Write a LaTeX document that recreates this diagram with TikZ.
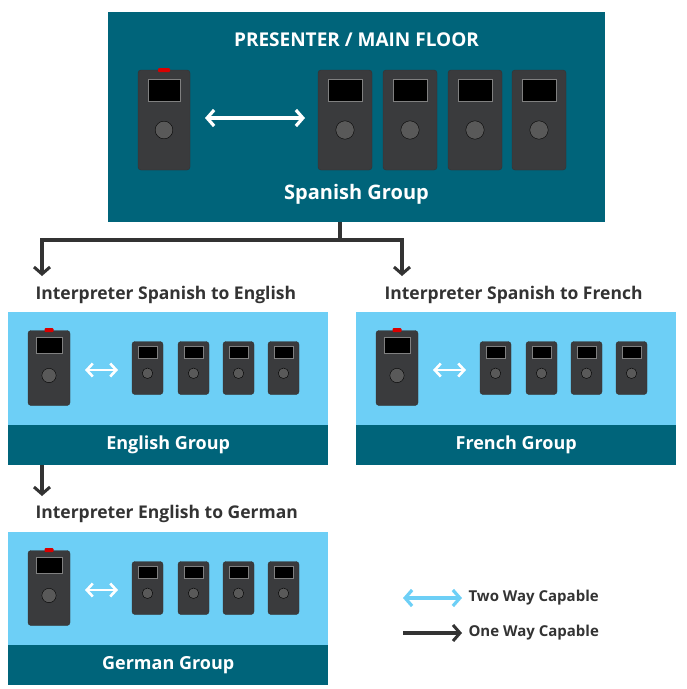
\documentclass[tikz,border=0pt]{standalone}
\usepackage{fontspec}
\setmainfont{Open Sans}
\usetikzlibrary{arrows.meta,calc}
\definecolor{teal}{HTML}{00647A}
\definecolor{sky}{HTML}{6DCFF6}
\definecolor{txt}{HTML}{333333}
\definecolor{body}{HTML}{3A3B3D}
\tikzset{
  x=1pt,y=-1pt,
  dev/.style={fill=body,draw=black!80,rounded corners=3pt,inner sep=0pt},
  title/.style={font=\bfseries\fontsize{19}{22}\selectfont,text=white},
  lab/.style={font=\bfseries\fontsize{17.5}{20}\selectfont,text=txt,anchor=west},
  conn/.style={draw=txt,line width=3.2pt,-{Straight Barb[length=7pt,width=16pt,line width=3pt]}},
  two/.style={line width=3.2pt,{Straight Barb[length=7pt,width=16pt]}-{Straight Barb[length=7pt,width=16pt]}},
}
\newcommand{\devc}[5]{% name, cx, cy, w, h
  \node[dev,minimum width=#4pt,minimum height=#5pt] (#1) at (#2,#3) {};
  \node[fill=black,draw=gray,inner sep=0pt,minimum width=0.62*#4pt,minimum height=0.22*#5pt] (#1s) at ($(#1.north)+(0,0.2*#5)$) {};
  \node[circle,fill=gray!70!black,draw=black,inner sep=0pt,minimum size=0.34*#4pt] (#1b) at (#2,#3+0.1*#5) {};
}
\begin{document}
\begin{tikzpicture}
\useasboundingbox (0,0) rectangle (687,689);
\node[fill=teal,minimum width=497pt,minimum height=210pt,inner sep=0pt] (top) at (356.5,117) {};
\node[title] (t1) at (356.5,40) {PRESENTER / MAIN FLOOR};
\node[title,font=\bfseries\fontsize{20}{23}\selectfont] (t2) at (356.5,194) {Spanish Group};
\devc{p0}{164}{120}{52}{100}
\node[fill=red!85!black,rounded corners=1pt,minimum width=12pt,minimum height=4pt,inner sep=0pt] (p0r) at (164,70) {};
\devc{d1}{345}{120}{54}{100}
\devc{d2}{410}{120}{54}{100}
\devc{d3}{475}{120}{54}{100}
\devc{d4}{539}{120}{54}{100}
\coordinate (a0) at (205,118);
\coordinate (a1) at (305,118);
\draw[two,draw=white] (a0) -- (a1);
\coordinate (j) at (340,240);
\coordinate (jl) at (42,240);
\coordinate (jr) at (402,240);
\coordinate (el) at (42,276);
\coordinate (er) at (402,276);
\draw[draw=txt,line width=3.2pt] (top.south -| j) -- (j);
\draw[draw=txt,line width=3.2pt] ($(jl)+(-1.6,0)$) -- ($(jr)+(1.6,0)$);
\draw[conn] (jl) -- (el);
\draw[conn] (jr) -- (er);
\node[lab] (l1) at (32,295) {Interpreter Spanish to English};
\node[lab] (l2) at (381,295) {Interpreter Spanish to French};
\foreach \n/\ox/\oy/\g in {A/8/312/English Group,B/356/312/French Group,C/8/532/German Group}{
  \node[fill=sky,minimum width=320pt,minimum height=113pt,inner sep=0pt,anchor=north west] (\n) at (\ox,\oy) {};
  \node[fill=teal,minimum width=320pt,minimum height=40pt,inner sep=0pt,anchor=north west] (\n g) at (\ox,\oy+113) {};
  \node[title,font=\bfseries\fontsize{18}{21}\selectfont] (\n t) at (\n g) {\g};
  \devc{\n p}{\ox+41}{\oy+56}{42}{75}
  \node[fill=red!85!black,rounded corners=1pt,minimum width=9pt,minimum height=4pt,inner sep=0pt] (\n r) at (\ox+41,\oy+18) {};
  \devc{\n 1}{\ox+139.5}{\oy+56}{31}{53}
  \devc{\n 2}{\ox+185.5}{\oy+56}{31}{53}
  \devc{\n 3}{\ox+230.5}{\oy+56}{31}{53}
  \devc{\n 4}{\ox+275.5}{\oy+56}{31}{53}
  \draw[white,line width=2.6pt,{Straight Barb[length=6pt,width=13pt]}-{Straight Barb[length=6pt,width=13pt]}] (\ox+77,\oy+58) -- (\ox+110,\oy+58);
}
\coordinate (e3) at (42,496);
\draw[conn] (Ag.south -| e3) -- (e3);
\node[lab] (l3) at (32,514) {Interpreter English to German};
\coordinate (la) at (403,598); \coordinate (lb) at (462,598);
\coordinate (lc) at (403,633); \coordinate (ld) at (462,633);
\draw[two,draw=sky] (la) -- (lb);
\draw[conn] (lc) -- (ld);
\node[lab,font=\bfseries\fontsize{15}{18}\selectfont] (k1) at (465,598) {Two Way Capable};
\node[lab,font=\bfseries\fontsize{15}{18}\selectfont] (k2) at (465,633) {One Way Capable};
\end{tikzpicture}
\end{document}
